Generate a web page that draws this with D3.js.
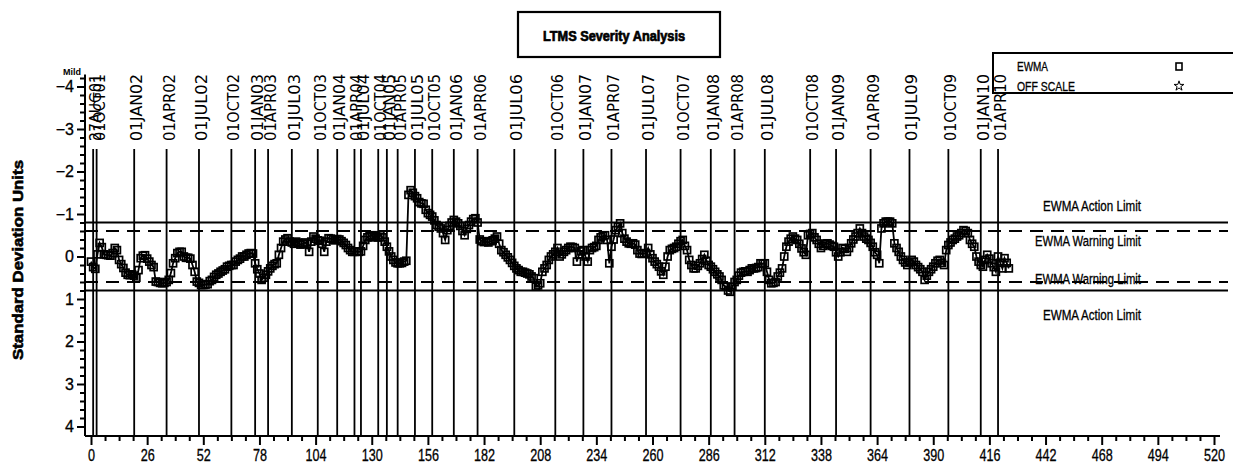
<!DOCTYPE html>
<html>
<head>
<meta charset="utf-8">
<script src="https://cdn.jsdelivr.net/npm/d3@7"></script>
<style>
body { margin: 0; background: #fff; }
text { font-family: "Liberation Sans", Arial, sans-serif; fill: #000; }
</style>
</head>
<body>
<script>
// EWMA by test number (0 .. 425)
let ewma = [
    0.12, 0.25, 0.29, -0.05, -0.32, -0.22, -0.05, -0.04, -0.03, -0.02,
    -0.08, -0.2, -0.15, 0.08, 0.18, 0.27, 0.38, 0.43, 0.44, 0.42,
    0.45, 0.5, 0.32, 0.04, -0.02, -0.03, 0.05, 0.12, 0.2, 0.25,
    0.59, 0.6, 0.62, 0.63, 0.62, 0.6, 0.55, 0.39, 0.16, 0.04,
    -0.08, -0.11, -0.11, 0.0, 0.03, 0.03, 0.05, 0.2, 0.36, 0.59,
    0.62, 0.67, 0.67, 0.66, 0.65, 0.58, 0.55, 0.48, 0.43, 0.4,
    0.36, 0.33, 0.3, 0.24, 0.22, 0.2, 0.2, 0.12, 0.08, 0.05,
    0.0, 0.0, -0.04, -0.07, -0.08, -0.07, 0.16, 0.3, 0.4, 0.55,
    0.5, 0.43, 0.35, 0.28, 0.22, 0.18, 0.16, -0.04, -0.2, -0.35,
    -0.4, -0.43, -0.35, -0.33, -0.3, -0.35, -0.32, -0.28, -0.3, -0.33,
    -0.3, -0.11, -0.35, -0.47, -0.42, -0.38, -0.37, -0.3, -0.11, -0.35,
    -0.43, -0.42, -0.4, -0.38, -0.41, -0.4, -0.36, -0.32, -0.27, -0.2,
    -0.15, -0.11, -0.11, -0.12, -0.11, -0.12, -0.25, -0.39, -0.45, -0.48,
    -0.5, -0.45, -0.48, -0.45, -0.5, -0.45, -0.35, -0.23, -0.12, 0.0,
    0.08, 0.14, 0.16, 0.16, 0.15, 0.12, 0.1, -1.45, -1.56, -1.5,
    -1.42, -1.37, -1.28, -1.25, -1.24, -1.1, -1.02, -0.98, -0.94, -0.85,
    -0.74, -0.7, -0.66, -0.55, -0.39, -0.62, -0.72, -0.8, -0.86, -0.82,
    -0.78, -0.72, -0.6, -0.5, -0.65, -0.74, -0.82, -0.88, -0.9, -0.8,
    -0.4, -0.36, -0.34, -0.35, -0.33, -0.36, -0.38, -0.42, -0.47, -0.3,
    -0.15, -0.1, -0.04, 0.02, 0.08, 0.15, 0.22, 0.28, 0.32, 0.36,
    0.36, 0.38, 0.4, 0.42, 0.47, 0.51, 0.71, 0.68, 0.63, 0.36,
    0.28, 0.2, 0.08, 0.0, -0.05, -0.11, -0.2, 0.0, -0.05, -0.11,
    -0.15, -0.2, -0.23, -0.22, -0.2, 0.12, -0.05, -0.12, -0.15, 0.0,
    0.12, -0.15, -0.2, -0.22, -0.25, -0.39, -0.45, -0.48, -0.5, -0.39,
    0.16, -0.23, -0.4, -0.62, -0.7, -0.78, -0.55, -0.42, -0.35, -0.31,
    -0.3, -0.31, -0.28, -0.15, -0.07, -0.06, -0.07, -0.08, -0.2, -0.05,
    0.04, 0.12, 0.18, 0.24, 0.35, 0.43, 0.24, 0.0, -0.15, -0.18,
    -0.2, -0.23, -0.3, -0.36, -0.39, -0.25, -0.15, 0.08, 0.2, 0.28,
    0.28, 0.22, 0.16, 0.06, -0.04, 0.1, 0.2, 0.24, 0.3, 0.36,
    0.42, 0.47, 0.55, 0.68, 0.71, 0.8, 0.83, 0.71, 0.6, 0.55,
    0.45, 0.38, 0.36, 0.35, 0.36, 0.32, 0.28, 0.28, 0.27, 0.25,
    0.16, 0.17, 0.16, 0.36, 0.55, 0.63, 0.62, 0.6, 0.47, 0.38,
    0.28, 0.0, -0.23, -0.35, -0.42, -0.47, -0.42, -0.39, -0.3, -0.19,
    -0.1, -0.04, -0.5, -0.53, -0.55, -0.45, -0.39, -0.3, -0.2, -0.25,
    -0.3, -0.31, -0.28, -0.25, -0.23, -0.1, 0.0, -0.1, -0.2, -0.18,
    -0.11, -0.2, -0.31, -0.4, -0.47, -0.55, -0.66, -0.55, -0.47, -0.42,
    -0.39, -0.32, -0.23, -0.1, -0.04, 0.16, -0.66, -0.78, -0.82, -0.82,
    -0.82, -0.78, -0.31, -0.2, -0.11, 0.0, 0.08, 0.14, 0.2, 0.14,
    0.08, 0.12, 0.2, 0.25, 0.3, 0.36, 0.55, 0.45, 0.36, 0.3,
    0.24, 0.16, 0.1, 0.08, 0.15, 0.2, -0.15, -0.27, -0.33, -0.39,
    -0.42, -0.47, -0.5, -0.55, -0.62, -0.6, -0.55, -0.39, -0.3, -0.23,
    0.0, 0.12, 0.2, 0.24, 0.08, -0.04, 0.05, 0.16, 0.25, 0.36,
    0.0, 0.15, 0.28, 0.04, 0.15, 0.28
];

// quarter reference lines (test number where each date starts)
let dateLabels = ["27AUG01", "01OCT01",
    "01JAN02", "01APR02", "01JUL02", "01OCT02",
    "01JAN03", "01APR03", "01JUL03", "01OCT03",
    "01JAN04", "01APR04", "01JUL04", "01OCT04",
    "01JAN05", "01APR05", "01JUL05", "01OCT05",
    "01JAN06", "01APR06", "01JUL06", "01OCT06",
    "01JAN07", "01APR07", "01JUL07", "01OCT07",
    "01JAN08", "01APR08", "01JUL08", "01OCT08",
    "01JAN09", "01APR09", "01JUL09", "01OCT09",
    "01JAN10", "01APR10"];
let dateTests = [1, 2.6,
    20, 35, 50, 65,
    76, 82, 93, 105,
    114, 122, 125, 133,
    137, 142, 150, 158,
    168, 179, 196, 215,
    228, 241, 257, 273,
    287, 298, 312, 333,
    345, 361, 379, 397,
    412, 420];

let xTicks = [0, 26, 52, 78, 104, 130, 156, 182, 208, 234, 260, 286, 312, 338, 364, 390, 416, 442, 468, 494, 520];
let yTicks = [-4, -3, -2, -1, 0, 1, 2, 3, 4];

let limitValues = [-0.8, -0.6, 0.6, 0.8];
let limitNames = ["EWMA Action Limit", "EWMA Warning Limit", "EWMA Warning Limit", "EWMA Action Limit"];

let width = 1233,
    height = 466;

let x = d3.scaleLinear().domain([0, 520]).range([91, 1214]);
let y = d3.scaleLinear().domain([-4, 4]).range([86.5, 426.5]);

let axisY = 436,
    axisX = 85;

let svg = d3.select("body").append("svg")
    .attr("width", width)
    .attr("height", height);

// title box
svg.append("rect")
    .attr("x", 518).attr("y", 12)
    .attr("width", 202).attr("height", 45)
    .attr("fill", "none").attr("stroke", "#000").attr("stroke-width", 2.2);
svg.append("text")
    .attr("x", 614).attr("y", 41)
    .attr("text-anchor", "middle")
    .attr("textLength", 142).attr("lengthAdjust", "spacingAndGlyphs")
    .style("font-weight", "900").style("font-size", "14px")
    .style("stroke", "#000").style("stroke-width", 0.7)
    .text("LTMS Severity Analysis");

// legend box
svg.append("rect")
    .attr("x", 993).attr("y", 53)
    .attr("width", 260).attr("height", 40)
    .attr("fill", "none").attr("stroke", "#000").attr("stroke-width", 2);
svg.append("text")
    .attr("x", 1017).attr("y", 71)
    .attr("textLength", 31).attr("lengthAdjust", "spacingAndGlyphs")
    .style("font-size", "13px").style("stroke", "#000").style("stroke-width", 0.3)
    .text("EWMA");
svg.append("text")
    .attr("x", 1017).attr("y", 91)
    .attr("textLength", 58).attr("lengthAdjust", "spacingAndGlyphs")
    .style("font-size", "13px").style("stroke", "#000").style("stroke-width", 0.3)
    .text("OFF SCALE");
svg.append("rect")
    .attr("x", 1176).attr("y", 63)
    .attr("width", 6).attr("height", 7)
    .attr("fill", "none").attr("stroke", "#000").attr("stroke-width", 1.6);
svg.append("path")
    .attr("d", d3.symbol().type(d3.symbolStar).size(30))
    .attr("transform", "translate(1179,86)")
    .attr("fill", "none").attr("stroke", "#000").attr("stroke-width", 1);

// date reference lines
let dates = svg.append("g");
dates.selectAll("line")
    .data(dateTests)
    .enter().append("line")
    .attr("x1", d => x(d)).attr("x2", d => x(d))
    .attr("y1", 149).attr("y2", axisY)
    .attr("stroke", "#000").attr("stroke-width", 1.8);
dates.selectAll("text")
    .data(dateTests)
    .enter().append("text")
    .attr("transform", d => "translate(" + (x(d) + 8) + ",141)rotate(-90)")
    .attr("textLength", 67).attr("lengthAdjust", "spacingAndGlyphs")
    .style("font-family", "'DejaVu Sans', sans-serif")
    .style("font-size", "16.5px")
    .text((d, i) => dateLabels[i]);

// limit lines
svg.append("g").selectAll("line")
    .data(limitValues)
    .enter().append("line")
    .attr("x1", axisX).attr("x2", 1228)
    .attr("y1", d => y(d)).attr("y2", d => y(d))
    .attr("stroke", "#000").attr("stroke-width", 2)
    .attr("stroke-dasharray", d => Math.abs(d) < 0.7 ? "13,8" : null);

let labelOffsets = [-12, 15, 2, 29];
svg.append("g").selectAll("text")
    .data(limitValues)
    .enter().append("text")
    .attr("x", 1141)
    .attr("y", (d, i) => y(d) + labelOffsets[i])
    .attr("text-anchor", "end")
    .attr("textLength", (d, i) => i % 3 === 0 ? 98 : 106)
    .attr("lengthAdjust", "spacingAndGlyphs")
    .style("font-size", "14px").style("stroke", "#000").style("stroke-width", 0.3)
    .text((d, i) => limitNames[i]);

// EWMA series
let line = d3.line()
    .x((d, i) => x(i))
    .y(d => y(d));

svg.append("path")
    .datum(ewma)
    .attr("d", line)
    .attr("fill", "none").attr("stroke", "#000").attr("stroke-width", 1.8);

svg.append("g").selectAll("rect")
    .data(ewma)
    .enter().append("rect")
    .attr("x", (d, i) => x(i) - 3.5)
    .attr("y", d => y(d) - 3.5)
    .attr("width", 7).attr("height", 7)
    .attr("fill", "none").attr("stroke", "#000").attr("stroke-width", 1.7);

// x axis
let gx = svg.append("g").attr("transform", "translate(0," + axisY + ")");
gx.call(d3.axisBottom(x).tickValues(xTicks).tickSize(9).tickPadding(3).tickFormat(d3.format("d")));
gx.append("g").call(d3.axisBottom(x)
    .tickValues(d3.range(0, 523, 6.5).filter(v => v % 26 !== 0))
    .tickSize(5).tickFormat(""));
gx.selectAll(".domain").remove();
gx.selectAll("line").attr("stroke", "#000").attr("stroke-width", 2);
gx.selectAll(".tick text")
    .attr("textLength", d => String(d).length * 7)
    .attr("lengthAdjust", "spacingAndGlyphs")
    .style("font-size", "16px").style("stroke", "#000").style("stroke-width", 0.3)
    .attr("dy", "0.8em");
gx.append("line")
    .attr("x1", axisX).attr("x2", 1220)
    .attr("stroke", "#000").attr("stroke-width", 2);

// y axis
let gy = svg.append("g").attr("transform", "translate(" + axisX + ",0)");
gy.call(d3.axisLeft(y).tickValues(yTicks).tickSize(8).tickPadding(3).tickFormat(d3.format("d")));
gy.append("g").call(d3.axisLeft(y)
    .tickValues(d3.range(-4.2, 4.2, 0.2).filter(v => Math.abs(v - Math.round(v)) > 0.05))
    .tickSize(5).tickFormat(""));
gy.selectAll(".domain").remove();
gy.selectAll("line").attr("stroke", "#000").attr("stroke-width", 2);
gy.selectAll(".tick text")
    .style("font-size", "16px").style("stroke", "#000").style("stroke-width", 0.3);
gy.append("line")
    .attr("y1", y(-4.28)).attr("y2", axisY)
    .attr("stroke", "#000").attr("stroke-width", 2);

svg.append("text")
    .attr("x", 72).attr("y", 75)
    .attr("text-anchor", "middle")
    .style("font-weight", "bold").style("font-size", "9px")
    .text("Mild");

svg.append("text")
    .attr("transform", "translate(23,260)rotate(-90)")
    .attr("text-anchor", "middle")
    .attr("textLength", 200).attr("lengthAdjust", "spacingAndGlyphs")
    .style("font-weight", "900").style("font-size", "15px")
    .style("stroke", "#000").style("stroke-width", 0.6)
    .text("Standard Deviation Units");
</script>
</body>
</html>
